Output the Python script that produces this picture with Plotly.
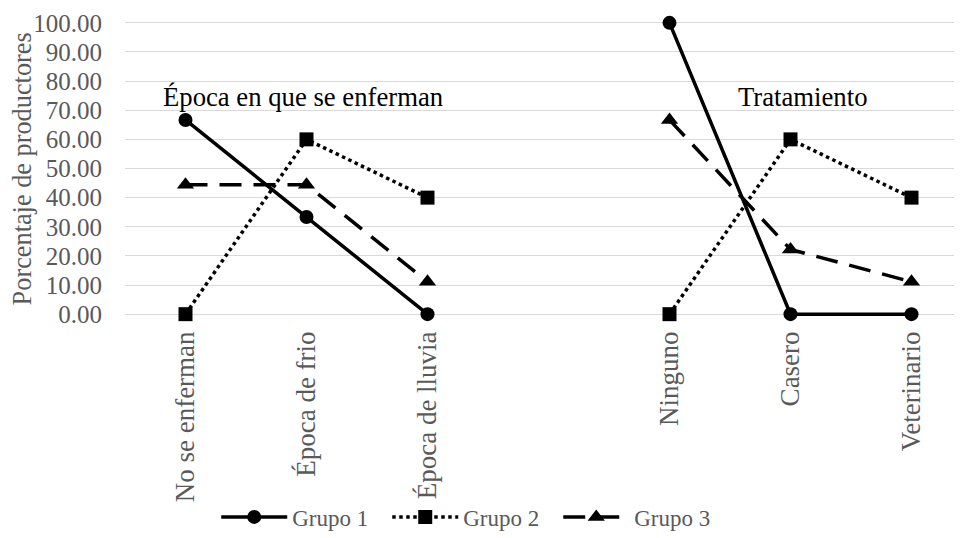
import plotly.graph_objects as go

categories = ["No se enferman", "Época de frio", "Época de lluvia", " ", "Ninguno", "Casero", "Veterinario"]
grupo1 = [66.67, 33.33, 0.0, None, 100.0, 0.0, 0.0]
grupo2 = [0.0, 60.0, 40.0, None, 0.0, 60.0, 40.0]
grupo3 = [44.44, 44.44, 11.11, None, 66.67, 22.22, 11.11]
series_names = ["Grupo 1", "Grupo 2", "Grupo 3"]
section_labels = ["Época en que se enferman", "Tratamiento"]
y_title = "Porcentaje de productores"

FONT = "Liberation Serif"
GRAY = "#595959"

fig = go.Figure()
styles = [
    dict(dash="solid", symbol="circle", size=14),
    dict(dash="dot", symbol="square", size=14),
    dict(dash="22px,12px", symbol="triangle-up", size=15),
]
for name, vals, st in zip(series_names, [grupo1, grupo2, grupo3], styles):
    fig.add_trace(go.Scatter(
        x=categories, y=vals, name=name, mode="lines+markers",
        line=dict(color="black", width=3.5, dash=st["dash"]),
        marker=dict(color="black", symbol=st["symbol"], size=st["size"]),
        connectgaps=False, cliponaxis=False,
    ))

PX = 2.95  # pixels per unit
pad = 2.0
OFF = 8  # default page body margin
TOP = 22.5
BOT = 538 - 317.5
fig.update_layout(
    width=962, height=538,
    margin=dict(l=125 - OFF, r=OFF, t=TOP - OFF - pad * PX, b=BOT + OFF - pad * PX),
    paper_bgcolor="white", plot_bgcolor="white",
    font=dict(family=FONT, color=GRAY, size=25),
    showlegend=True,
    legend=dict(orientation="h", x=0.109, xanchor="left", y=-0.65, yanchor="middle",
                font=dict(family=FONT, size=23, color=GRAY), itemwidth=66,
                entrywidth=90, entrywidthmode="pixels", bgcolor="rgba(0,0,0,0)"),
    xaxis=dict(type="category", categoryorder="array", categoryarray=categories,
               range=[-0.5, -0.5 + 837 / 121], tickangle=-90, showgrid=False, zeroline=False,
               showline=False, ticks="", tickfont=dict(family=FONT, size=27, color=GRAY),
               ticklabelstandoff=5, automargin=False),
    yaxis=dict(range=[-pad, 100 + pad], tick0=0, dtick=10, tickformat=".2f", showgrid=True,
               gridcolor="#d9d9d9", gridwidth=1.3, zeroline=False, showline=False, ticks="",
               tickfont=dict(family=FONT, size=25, color=GRAY), ticklabelstandoff=22,
               automargin=False),
)

fig.add_annotation(text=y_title, xref="paper", yref="y", x=-0.122, y=50,
                   xanchor="center", yanchor="middle", textangle=-90, showarrow=False,
                   font=dict(family=FONT, size=26.3, color=GRAY))
fig.add_annotation(text=section_labels[0], xref="x", yref="y", x=0.97, y=74.7,
                   showarrow=False, font=dict(family=FONT, size=26.7, color="black"))
fig.add_annotation(text=section_labels[1], xref="x", yref="y", x=5.10, y=74.7,
                   showarrow=False, font=dict(family=FONT, size=26.7, color="black"))

fig.write_html("out.html")
